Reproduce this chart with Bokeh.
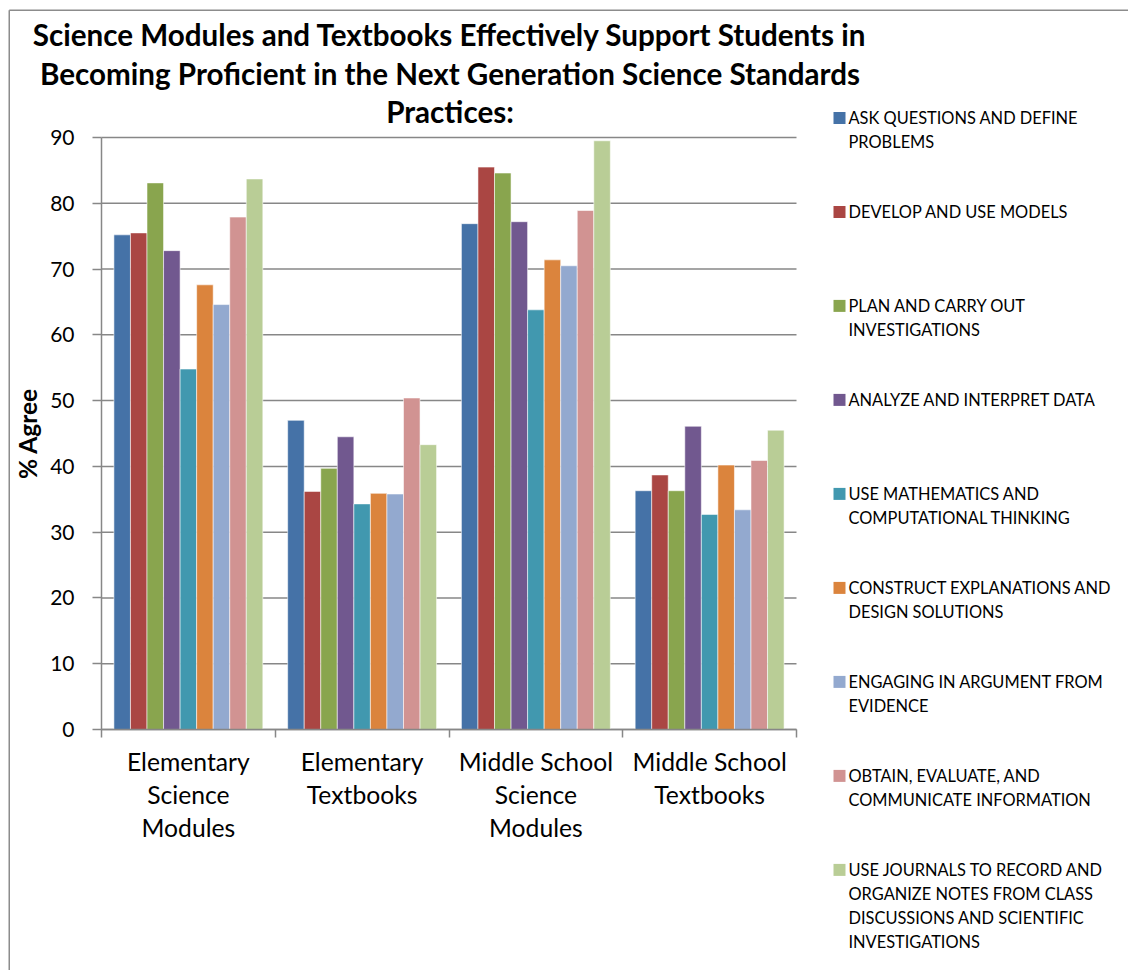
import numpy as np
from bokeh.plotting import figure
from bokeh.models import Range1d, FixedTicker, ColumnDataSource
from bokeh.core.properties import value
from bokeh.embed import file_html
from bokeh.resources import INLINE

# ---------------- data ----------------
categories = ["Elementary Science Modules", "Elementary Textbooks",
              "Middle School Science Modules", "Middle School Textbooks"]
category_labels = ["Elementary\nScience\nModules", "Elementary\nTextbooks",
                   "Middle School\nScience\nModules", "Middle School\nTextbooks"]

series_names = [
    "ASK QUESTIONS AND DEFINE\nPROBLEMS",
    "DEVELOP AND USE MODELS",
    "PLAN AND CARRY OUT\nINVESTIGATIONS",
    "ANALYZE AND INTERPRET DATA",
    "USE MATHEMATICS AND\nCOMPUTATIONAL THINKING",
    "CONSTRUCT EXPLANATIONS AND\nDESIGN SOLUTIONS",
    "ENGAGING IN ARGUMENT FROM\nEVIDENCE",
    "OBTAIN, EVALUATE, AND\nCOMMUNICATE INFORMATION",
    "USE JOURNALS TO RECORD AND\nORGANIZE NOTES FROM CLASS\nDISCUSSIONS AND SCIENTIFIC\nINVESTIGATIONS",
]

ask_questions = [75.2, 47.0, 76.9, 36.3]
develop_models = [75.5, 36.2, 85.5, 38.7]
plan_investigations = [83.1, 39.7, 84.6, 36.3]
analyze_data = [72.8, 44.5, 77.2, 46.1]
use_math = [54.8, 34.3, 63.8, 32.7]
construct_explanations = [67.6, 35.9, 71.4, 40.2]
engaging_argument = [64.6, 35.8, 70.5, 33.4]
obtain_information = [77.9, 50.4, 78.9, 40.9]
use_journals = [83.7, 43.3, 89.5, 45.5]

series_values = [ask_questions, develop_models, plan_investigations, analyze_data,
                 use_math, construct_explanations, engaging_argument,
                 obtain_information, use_journals]

colors = ["#4572A7", "#AA4643", "#89A54E", "#71588F", "#4198AF",
          "#DB843D", "#93A9CF", "#D19392", "#B9CD96"]

y_ticks = list(range(0, 91, 10))
y_max = 90
title_lines = ["Science Modules and Textbooks Effectively Support Students in",
               "Becoming Proficient in the Next Generation Science Standards",
               "Practices:"]

# ---------------- layout constants (page pixels) ----------------
FONT = "Lato"
GRAY = "#878787"
W, H = 1128, 970
PL, PR, PT, PB = 101, 796, 137, 729      # plot-area box on the page
n = len(categories)
kx = (PR - PL) / n                        # px per category
ky = (PB - PT) / y_max                    # px per percent

# The frame fills the whole canvas; axes are pinned at x=0 / y=0.
p = figure(width=W, height=H,
           x_range=Range1d(-PL / kx, (W - PL) / kx),
           y_range=Range1d(-(H - PB) / ky, PB / ky),
           output_backend="svg", toolbar_location=None, min_border=0)
p.min_border_left = p.min_border_right = p.min_border_top = p.min_border_bottom = 0
p.extra_x_ranges = {"px": Range1d(0, W)}
p.extra_y_ranges = {"px": Range1d(H, 0)}
p.outline_line_color = None
p.background_fill_color = "white"
p.border_fill_color = "white"
p.xgrid.visible = False
p.ygrid.visible = False

# horizontal gridlines across the plot area only
p.segment(x0=0, x1=n, y0=y_ticks, y1=y_ticks, line_color=GRAY, line_width=1.5)

# y axis
ya = p.yaxis[0]
ya.fixed_location = 0
ya.bounds = (0, y_max)
ya.ticker = FixedTicker(ticks=y_ticks)
ya.axis_line_color = GRAY
ya.axis_line_width = 1.5
ya.major_tick_line_color = GRAY
ya.major_tick_line_width = 1.5
ya.major_tick_out = 9
ya.major_tick_in = 0
ya.minor_tick_line_color = None
ya.major_label_text_font = FONT
ya.major_label_text_font_size = "21px"
ya.major_label_text_color = "black"
ya.major_label_standoff = 18
ya.axis_label = "% Agree"
ya.axis_label_text_font = FONT
ya.axis_label_text_font_style = "bold"
ya.axis_label_text_font_size = "24.5px"
ya.axis_label_text_color = "black"
ya.axis_label_standoff = 5

# x axis: labels at category centres, tick marks at category boundaries
xa = p.xaxis[0]
xa.fixed_location = 0
xa.bounds = (0, n)
centers = [i + 0.5 for i in range(n)]
xa.ticker = FixedTicker(ticks=centers, minor_ticks=list(range(n + 1)))
xa.major_label_overrides = {c: lab for c, lab in zip(centers, category_labels)}
xa.axis_line_color = GRAY
xa.axis_line_width = 1.5
xa.major_tick_line_color = None
xa.major_tick_out = 0
xa.major_tick_in = 0
xa.minor_tick_line_color = GRAY
xa.minor_tick_line_width = 1.5
xa.minor_tick_out = 8
xa.minor_tick_in = 0
xa.major_label_text_font = FONT
xa.major_label_text_font_size = "24.7px"
xa.major_label_text_color = "black"
xa.major_label_text_line_height = 1.15
xa.major_label_standoff = 9

# ---------------- bars ----------------
nser = len(series_values)
bw = 1.0 / (nser + 1.5)
for j, (vals, col) in enumerate(zip(series_values, colors)):
    xs = np.array(centers) + (j - (nser - 1) / 2) * bw
    src = ColumnDataSource(dict(x=xs, top=vals, cat=categories))
    p.vbar(x="x", top="top", bottom=0, width=bw, source=src,
           fill_color=col, line_color="white", line_alpha=0.55, line_width=1)

# ---------------- title ----------------
TFS = 29.6
tsrc = ColumnDataSource(dict(x=[449.5] * len(title_lines),
                             y=[45 + 38.35 * k - 0.36 * TFS for k in range(len(title_lines))],
                             text=title_lines))
p.text(x="x", y="y", text="text", source=tsrc, x_range_name="px", y_range_name="px",
       text_align="center", text_baseline="middle",
       text_font=value(FONT), text_font_style="bold", text_font_size=f"{TFS}px",
       text_color="black")

# ---------------- legend ----------------
lx, ly, lt = [], [], []
sw_top, sw_bot = [], []
for j, name in enumerate(series_names):
    yc = 117.4 + 94 * j
    sw_top.append(yc - 6)
    sw_bot.append(yc + 6)
    for k, line in enumerate(name.split("\n")):
        lx.append(848)
        ly.append(yc + 24 * k)
        lt.append(line)
p.quad(left=833, right=845, top=sw_top, bottom=sw_bot, fill_color=colors,
       line_color=None, x_range_name="px", y_range_name="px")
p.text(x=lx, y=ly, text=lt, x_range_name="px", y_range_name="px",
       text_align="left", text_baseline="middle",
       text_font=value(FONT), text_font_size="16.4px", text_color="black")

# ---------------- chart border (left and top edges) ----------------
p.segment(x0=[8.75, 8.75], y0=[9.75, 9.75], x1=[8.75, W + 5], y1=[H + 5, 9.75],
          line_color="#8c8c8c", line_width=1.5, x_range_name="px", y_range_name="px")

open("out.html", "w").write(file_html(p, INLINE))
